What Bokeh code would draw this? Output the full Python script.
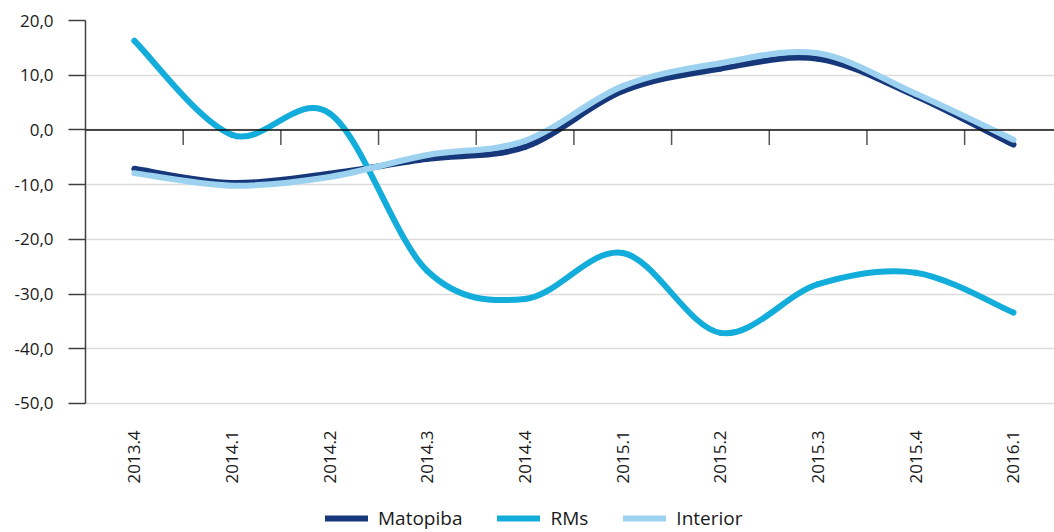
from bokeh.plotting import figure
from bokeh.models import (Range1d, FixedTicker, Legend, LegendItem, ColumnDataSource, Span)
from bokeh.core.properties import value
from bokeh.embed import file_html
from bokeh.resources import INLINE
import math

categories = ["2013.4", "2014.1", "2014.2", "2014.3", "2014.4",
              "2015.1", "2015.2", "2015.3", "2015.4", "2016.1"]
matopiba = [-7.1, -9.7, -8.0, -5.3, -3.1, 7.1, 11.2, 13.0, 6.2, -2.7]
rms = [16.3, -0.9, 3.0, -25.8, -30.9, -22.5, -37.1, -28.2, -26.1, -33.4]
interior = [-7.9, -10.2, -8.6, -4.6, -2.0, 8.0, 12.2, 14.0, 6.6, -1.8]
y_ticks = [-50, -40, -30, -20, -10, 0, 10, 20]

series = [("Matopiba", matopiba, "#16387a"),
          ("RMs", rms, "#13addb"),
          ("Interior", interior, "#9cd2ef")]

FONT = "Open Sans"
TXT = "#1a1a1a"
Y_MIN, Y_MAX = y_ticks[0], y_ticks[-1]

# frame extends below the value axis so the category labels and legend fit inside it
p = figure(width=1054, height=532, output_backend="svg", toolbar_location=None,
           x_range=Range1d(-0.5, 9.42), y_range=Range1d(-73.6, Y_MAX),
           min_border_left=85, min_border_top=20, min_border_bottom=0, min_border_right=0)
p.outline_line_color = None
p.background_fill_color = "white"
p.xaxis.visible = False
p.xgrid.grid_line_color = None

# y axis
ya = p.yaxis[0]
ya.bounds = (Y_MIN, Y_MAX)
ya.ticker = FixedTicker(ticks=y_ticks)
ya.major_label_overrides = {t: f"{t:.1f}".replace(".", ",") for t in y_ticks}
ya.major_tick_out = 17
ya.major_tick_in = 0
ya.minor_tick_line_color = None
ya.major_label_standoff = 15
ya.axis_line_color = "#404040"
ya.axis_line_width = 1.5
ya.major_tick_line_color = "#404040"
ya.major_tick_line_width = 1.5
ya.major_label_text_font = FONT
ya.major_label_text_font_size = "17px"
ya.major_label_text_color = TXT

p.ygrid.ticker = FixedTicker(ticks=y_ticks)
p.ygrid.grid_line_color = "#dcdcdc"
p.ygrid.grid_line_width = 1.5

# category labels below the value area
p.text(x=list(range(len(categories))), y=[Y_MIN] * len(categories), text=categories,
       angle=math.pi / 2, y_offset=27, text_align="right", text_baseline="middle",
       text_font=value(FONT), text_font_size="17px", text_color=TXT)

# zero line with category boundary ticks
p.add_layout(Span(location=0, dimension="width", line_color="#111111", line_width=1.5))
bx = [i + 0.5 for i in range(len(categories) - 1)]
p.ray(x=bx, y=[0] * len(bx), length=15, length_units="screen", angle=-math.pi / 2,
      line_color="#555555", line_width=1.5)

def bezier_data(vals):
    n = len(vals)
    xs = list(range(n))
    d = dict(x0=[], y0=[], x1=[], y1=[], cx0=[], cy0=[], cx1=[], cy1=[])
    for i in range(n - 1):
        xm, ym = xs[max(i - 1, 0)], vals[max(i - 1, 0)]
        xa_, ya_ = xs[i], vals[i]
        xb, yb = xs[i + 1], vals[i + 1]
        xp, yp = xs[min(i + 2, n - 1)], vals[min(i + 2, n - 1)]
        d["x0"].append(xa_); d["y0"].append(ya_)
        d["x1"].append(xb); d["y1"].append(yb)
        d["cx0"].append(xa_ + (xb - xm) / 6); d["cy0"].append(ya_ + (yb - ym) / 6)
        d["cx1"].append(xb - (xp - xa_) / 6); d["cy1"].append(yb - (yp - ya_) / 6)
    return ColumnDataSource(d)

items = []
for name, vals, col in series:
    r = p.bezier(x0="x0", y0="y0", x1="x1", y1="y1", cx0="cx0", cy0="cy0",
                 cx1="cx1", cy1="cy1", source=bezier_data(vals),
                 line_color=col, line_width=6, line_cap="round")
    items.append(LegendItem(label=name, renderers=[r]))

legend = Legend(items=items, orientation="horizontal", location=(240, 1),
                border_line_color=None, background_fill_alpha=0,
                label_text_font=FONT, label_text_font_size="19px",
                label_text_color=TXT, glyph_width=43, glyph_height=18,
                spacing=35, label_standoff=10, padding=0, margin=0)
p.add_layout(legend, "center")

open("out.html", "w").write(file_html(p, INLINE))
